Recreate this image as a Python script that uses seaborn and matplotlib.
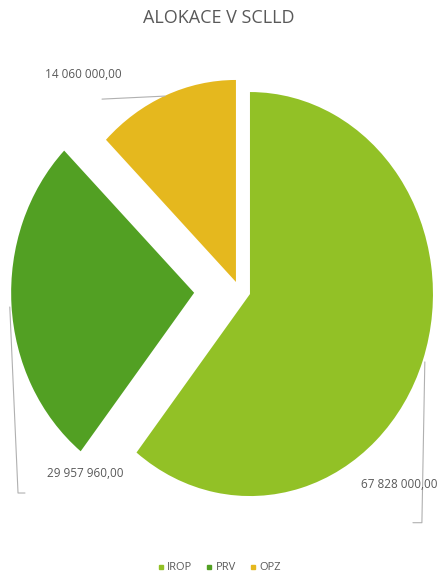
import numpy as np
import seaborn as sns
import matplotlib.pyplot as plt
from matplotlib.lines import Line2D

categories = ['IROP', 'PRV', 'OPZ']
values = [67828000.00, 29957960.00, 14060000.00]
title = 'ALOKACE V SCLLD'

sns.set_style('white')
plt.rcParams['font.family'] = ['Open Sans', 'DejaVu Sans']

colors = ['#92C126', '#52A023', '#E5B81E']
explode = [0.064, 0.245, 0.042]
text_gray = '#595959'
line_gray = '#B0B0B0'

# label positions (data units of the pie) and leader line paths
label_pos = {'IROP': (0.875, -0.966), 'PRV': (-0.841, -0.907), 'OPZ': (-0.852, 1.068)}
leaders = {
    'IROP': [(1.016, -0.357), (1.0, -1.153), (0.951, -1.153)],
    'PRV': [(-1.252, -0.085), (-1.207, -1.006), (-1.169, -1.006)],
    'OPZ': [(-0.748, 0.944), (-0.404, 0.959)],
}


def fmt(v):
    return f"{v:,.2f}".replace(',', ' ').replace('.', ',')


fig = plt.figure(figsize=(4.38, 5.76), dpi=100)
ax = fig.add_axes([0, 0, 1, 1])
ax.pie(values, colors=colors, explode=explode, startangle=90, counterclock=False,
       wedgeprops=dict(linewidth=0))
ax.set_aspect('auto')
ax.set_xlim(-238.9 / 183, (438 - 238.9) / 183)
ax.set_ylim(-(576 - 289.8) / 202, 289.8 / 202)
ax.axis('off')

for cat, v in zip(categories, values):
    pts = np.array(leaders[cat])
    ax.plot(pts[:, 0], pts[:, 1], color=line_gray, lw=0.8, zorder=1)
    x, y = label_pos[cat]
    ax.text(x, y, fmt(v), ha='center', va='center', fontsize=8.5, color=text_gray,
            family=['Liberation Sans Narrow', 'Open Sans', 'DejaVu Sans'])

fig.text(0.5, 1 - 18 / 576, title, ha='center', va='center', fontsize=13, color=text_gray)

handles = [Line2D([], [], marker='s', linestyle='', color=c, markersize=3.5) for c in colors]
fig.legend(handles, categories, loc='center', bbox_to_anchor=(0.5, 1 - 568 / 576), ncol=3,
           frameon=False, fontsize=8, labelcolor=text_gray, handlelength=0.6,
           handletextpad=0.3, columnspacing=1.2)

fig.savefig('out.png', dpi=100)
